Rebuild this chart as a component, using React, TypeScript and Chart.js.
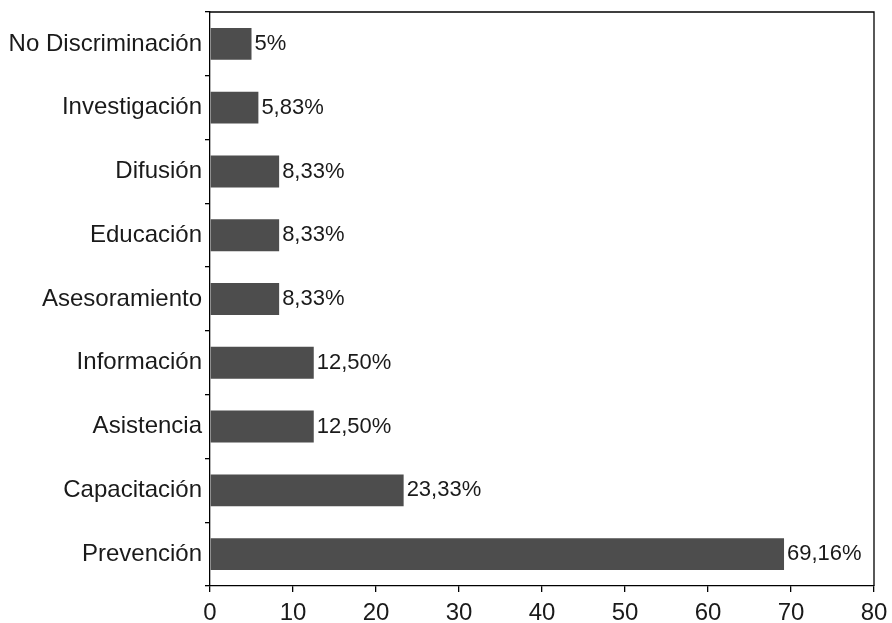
import React, { useEffect, useRef } from "react";
import { Chart, registerables } from "chart.js";

Chart.register(...registerables);

const categories = [
  "No Discriminación",
  "Investigación",
  "Difusión",
  "Educación",
  "Asesoramiento",
  "Información",
  "Asistencia",
  "Capacitación",
  "Prevención",
];
const values = [5, 5.83, 8.33, 8.33, 8.33, 12.5, 12.5, 23.33, 69.16];
const valueLabels = ["5%", "5,83%", "8,33%", "8,33%", "8,33%", "12,50%", "12,50%", "23,33%", "69,16%"];
const xMin = 0;
const xMax = 80;
const xStep = 10;

const FONT = "'Liberation Sans', Arial, Helvetica, sans-serif";

export default function App() {
  const ref = useRef<HTMLCanvasElement | null>(null);
  useEffect(() => {
    document.body.style.margin = "0";
    const ctx = ref.current!.getContext("2d")!;
    const frame = {
      id: "frame",
      afterDraw(chart: any) {
        const { ctx, chartArea } = chart;
        ctx.save();
        ctx.strokeStyle = "#000";
        ctx.lineWidth = 1.3;
        ctx.beginPath();
        ctx.moveTo(chartArea.left, chartArea.top);
        ctx.lineTo(chartArea.right, chartArea.top);
        ctx.lineTo(chartArea.right, chartArea.bottom);
        ctx.stroke();
        ctx.restore();
      },
    };
    const valueLabelPlugin = {
      id: "valueLabels",
      afterDatasetsDraw(chart: any) {
        const { ctx } = chart;
        const meta = chart.getDatasetMeta(0);
        ctx.save();
        ctx.font = `22px ${FONT}`;
        ctx.fillStyle = "#1a1a1a";
        ctx.textAlign = "left";
        ctx.textBaseline = "middle";
        meta.data.forEach((bar: any, i: number) => {
          ctx.fillText(valueLabels[i], bar.x + 3, bar.y);
        });
        ctx.restore();
      },
    };
    const chart = new Chart(ctx, {
      type: "bar",
      data: {
        labels: categories,
        datasets: [
          {
            data: values,
            backgroundColor: "#4d4d4d",
            borderWidth: 0,
            barPercentage: 0.5,
            categoryPercentage: 1,
          },
        ],
      },
      options: {
        indexAxis: "y",
        animation: false,
        responsive: false,
        maintainAspectRatio: false,
        layout: { padding: { top: 12, right: 18, left: 0, bottom: 0 } },
        plugins: { legend: { display: false }, tooltip: { enabled: false } },
        scales: {
          x: {
            min: xMin,
            max: xMax,
            ticks: {
              stepSize: xStep,
              color: "#1a1a1a",
              font: { family: FONT, size: 24 },
              padding: 7,
            },
            grid: {
              drawOnChartArea: false,
              drawTicks: true,
              tickLength: 6,
              color: "#000",
              lineWidth: 1.3,
            },
            border: { display: true, color: "#000", width: 1.3 },
            afterFit(scale: any) {
              scale.height = 37;
              scale.paddingLeft = 0;
              scale.paddingRight = 0;
            },
          },
          y: {
            ticks: {
              color: "#1a1a1a",
              font: { family: FONT, size: 24 },
              padding: 3,
            },
            grid: {
              offset: true,
              drawOnChartArea: false,
              drawTicks: true,
              tickLength: 5,
              color: "#000",
              lineWidth: 1.3,
            },
            border: { display: true, color: "#000", width: 1.3 },
            afterFit(scale: any) {
              scale.width = 210;
              scale.paddingTop = 0;
              scale.paddingBottom = 0;
            },
          },
        },
      },
      plugins: [frame, valueLabelPlugin],
    });
    return () => chart.destroy();
  }, []);
  return (
    <div style={{ position: "fixed", left: 0, top: 0, width: 892, height: 623, background: "#fff" }}>
      <canvas ref={ref} width={892} height={623} style={{ display: "block" }} />
    </div>
  );
}
